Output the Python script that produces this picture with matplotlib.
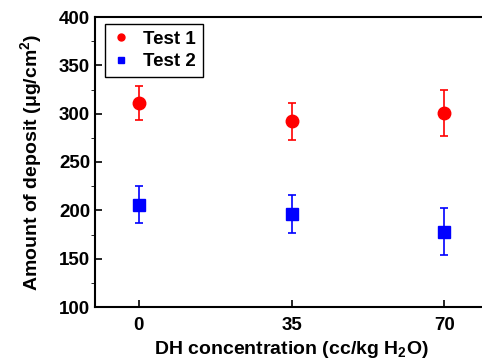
import numpy as np
import matplotlib
matplotlib.use("Agg")
import matplotlib.pyplot as plt
from matplotlib.ticker import MultipleLocator
from matplotlib.lines import Line2D

plt.rcParams['font.family'] = 'Liberation Sans'
plt.rcParams['font.weight'] = 'bold'
plt.rcParams['axes.labelweight'] = 'bold'
plt.rcParams['mathtext.fontset'] = 'custom'
plt.rcParams['mathtext.rm'] = 'Liberation Sans:bold'
plt.rcParams['mathtext.bf'] = 'Liberation Sans:bold'
plt.rcParams['mathtext.default'] = 'bf'

dh = np.array([0, 35, 70])
test1 = np.array([311, 292, 301])
test1_err = np.array([17.5, 19, 24])
test2 = np.array([206, 196, 178])
test2_err = np.array([19, 19.5, 24.5])

fig = plt.figure(figsize=(4.82, 3.62), dpi=100)
ax = fig.add_axes([95/482, 1 - 307/362, (488 - 95)/482, (307 - 17)/362])

ax.errorbar(dh, test1, yerr=test1_err, fmt='o', color='red', ms=9,
            capsize=3, elinewidth=1.2, capthick=1.2)
ax.errorbar(dh, test2, yerr=test2_err, fmt='s', color='blue', ms=8,
            capsize=3, elinewidth=1.2, capthick=1.2)

ax.set_xlim(-10, 80)
ax.set_ylim(100, 400)
ax.set_xticks(dh)
ax.yaxis.set_major_locator(MultipleLocator(50))
ax.yaxis.set_minor_locator(MultipleLocator(25))
ax.tick_params(direction='in', labelsize=13.5, width=1.2)
ax.tick_params(which='major', length=5)
ax.tick_params(which='minor', length=3)
ax.tick_params(axis='x', pad=7)
ax.spines['right'].set_visible(False)
for s in ['left', 'bottom', 'top']:
    ax.spines[s].set_linewidth(1.5)

ax.set_xlabel('DH concentration (cc/kg H$_2$O)', fontsize=14, labelpad=4)
ax.set_ylabel('Amount of deposit (\u03bcg/cm$^2$)', fontsize=14, labelpad=11)

handles = [Line2D([], [], ls='none', marker='o', color='red', ms=5),
           Line2D([], [], ls='none', marker='s', color='blue', ms=4.5)]
leg = ax.legend(handles, ['Test 1', 'Test 2'], loc='upper left',
                bbox_to_anchor=(0.025, 0.976), borderaxespad=0, fontsize=13.5,
                handlelength=1.0, handletextpad=0.7,
                borderpad=0.35, labelspacing=0.3, fancybox=False,
                edgecolor='black', framealpha=1)
leg.get_frame().set_linewidth(1.0)

fig.savefig('out.png', dpi=100)
